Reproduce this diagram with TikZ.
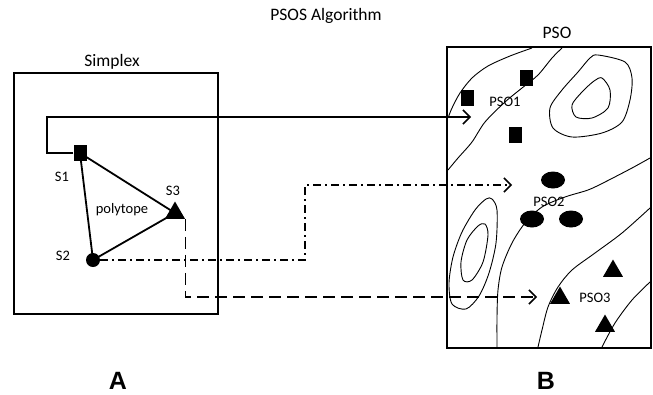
\documentclass[tikz,border=0pt]{standalone}
\usepackage{fontspec}
\setmainfont{Carlito}
\newfontfamily\arialfont{Liberation Sans}
\usetikzlibrary{shapes.geometric,arrows.meta}
\begin{document}
\begin{tikzpicture}[x=1pt,y=-1pt,
  panel/.style={draw,line width=2pt},
  lbl/.style={font=\fontsize{14.5}{16}\selectfont,inner sep=0pt},
  ttl/.style={font=\fontsize{17.5}{20}\selectfont,inner sep=0pt},
  big/.style={font=\arialfont\bfseries\fontsize{25}{28}\selectfont,inner sep=0pt,anchor=base},
  sq/.style={fill=black,minimum width=13pt,minimum height=16pt,inner sep=0pt},
  dot/.style={circle,fill=black,minimum size=14pt,inner sep=0pt},
  ell/.style={ellipse,fill=black,minimum width=24pt,minimum height=17pt,inner sep=0pt},
  tri/.style={regular polygon,regular polygon sides=3,fill=black,minimum size=23pt,inner sep=0pt},
  contour/.style={line width=0.9pt},
  edge/.style={line width=1.8pt},
  conn/.style={line width=1.5pt,-{Straight Barb[length=7pt,width=14pt,line width=1.5pt]}},
]
\useasboundingbox (0,0) rectangle (653,394);

% titles
\node[ttl] (title) at (326,16) {PSOS Algorithm};
\node[ttl] (simplexlbl) at (112,62) {Simplex};
\node[ttl] (psolbl) at (557,33) {PSO};
\node[big] (A) at (118,389) {A};
\node[big] (B) at (546,389) {B};

% panels
\node[panel,minimum width=204pt,minimum height=241pt,inner sep=0pt] (simplex) at (116,193.5) {};
\node[panel,minimum width=204pt,minimum height=301pt,inner sep=0pt] (pso) at (549,197.5) {};

% contours inside PSO
\begin{scope}[contour]
\draw plot[smooth] coordinates {(532,48) (510,56) (488,66) (472,78) (460,93) (452,108) (448,118)};
\draw plot[smooth] coordinates {(562,48) (552,58) (538,75) (522,88) (505,102) (485,122) (472,142) (458,158) (448,170)};
\draw plot[smooth cycle] coordinates {(598,55) (625,62) (632,78) (630,100) (622,122) (602,133) (572,137) (553,128) (550,108) (562,90) (578,72) (590,58)};
\draw plot[smooth cycle] coordinates {(602,78) (610,90) (608,108) (592,118) (576,117) (572,105) (582,92) (594,81)};
\draw plot[smooth] coordinates {(650,158) (632,168) (605,182) (588,190) (565,197) (542,207) (525,223) (512,243) (502,267) (498,290) (497,317) (497,347)};
\draw plot[smooth] coordinates {(650,208) (622,233) (595,253) (572,270) (558,287) (548,307) (542,330) (538,347)};
\draw plot[smooth] coordinates {(650,282) (632,300) (615,323) (602,347)};
\draw plot[smooth cycle] coordinates {(492,199) (497,210) (496,243) (489,273) (479,296) (466,309) (452,304) (449,283) (453,257) (462,232) (475,210) (486,199)};
\draw plot[smooth cycle] coordinates {(485,224) (488,235) (483,262) (472,280) (463,280) (461,262) (467,240) (478,226)};
\end{scope}

% simplex vertices
\node[sq] (s1) at (80,153) {};
\node[dot] (s2) at (93,260) {};
\node[tri] (s3) at (175,213) {};
\draw[edge] (s1.center) -- (s3.center) -- (s2.center) -- (s1.center);
\node[lbl] (s1lbl) at (62,177) {S1};
\node[lbl] (s2lbl) at (63,256) {S2};
\node[lbl] (s3lbl) at (173,191) {S3};
\node[lbl] (poly) at (122,210) {polytope};

% PSO particles
\node[sq] (p1a) at (467,98) {};
\node[sq] (p1b) at (526,78) {};
\node[sq] (p1c) at (515,135) {};
\node[lbl] (pso1) at (505,102) {PSO1};
\node[ell] (p2a) at (553,180) {};
\node[ell] (p2b) at (532,219) {};
\node[ell] (p2c) at (571,219) {};
\node[lbl] (pso2) at (549,202) {PSO2};
\node[tri] (p3a) at (613,271) {};
\node[tri] (p3b) at (560,298) {};
\node[tri] (p3c) at (605,326) {};
\node[lbl] (pso3) at (595,298) {PSO3};

% connectors
\coordinate (c1) at (47,117);
\coordinate (t1) at (471,117);
\coordinate (c2) at (305,185);
\coordinate (t2) at (512,185);
\coordinate (t3) at (537,297);
\draw[conn] (s1.west) -| (c1) -- (t1);
\draw[conn,dash pattern=on 8pt off 4pt on 2pt off 4pt] (s2.east) -| (c2) -- (t2);
\draw[conn,dash pattern=on 12pt off 6pt] (s3.corner 3) |- (t3);
\end{tikzpicture}
\end{document}
